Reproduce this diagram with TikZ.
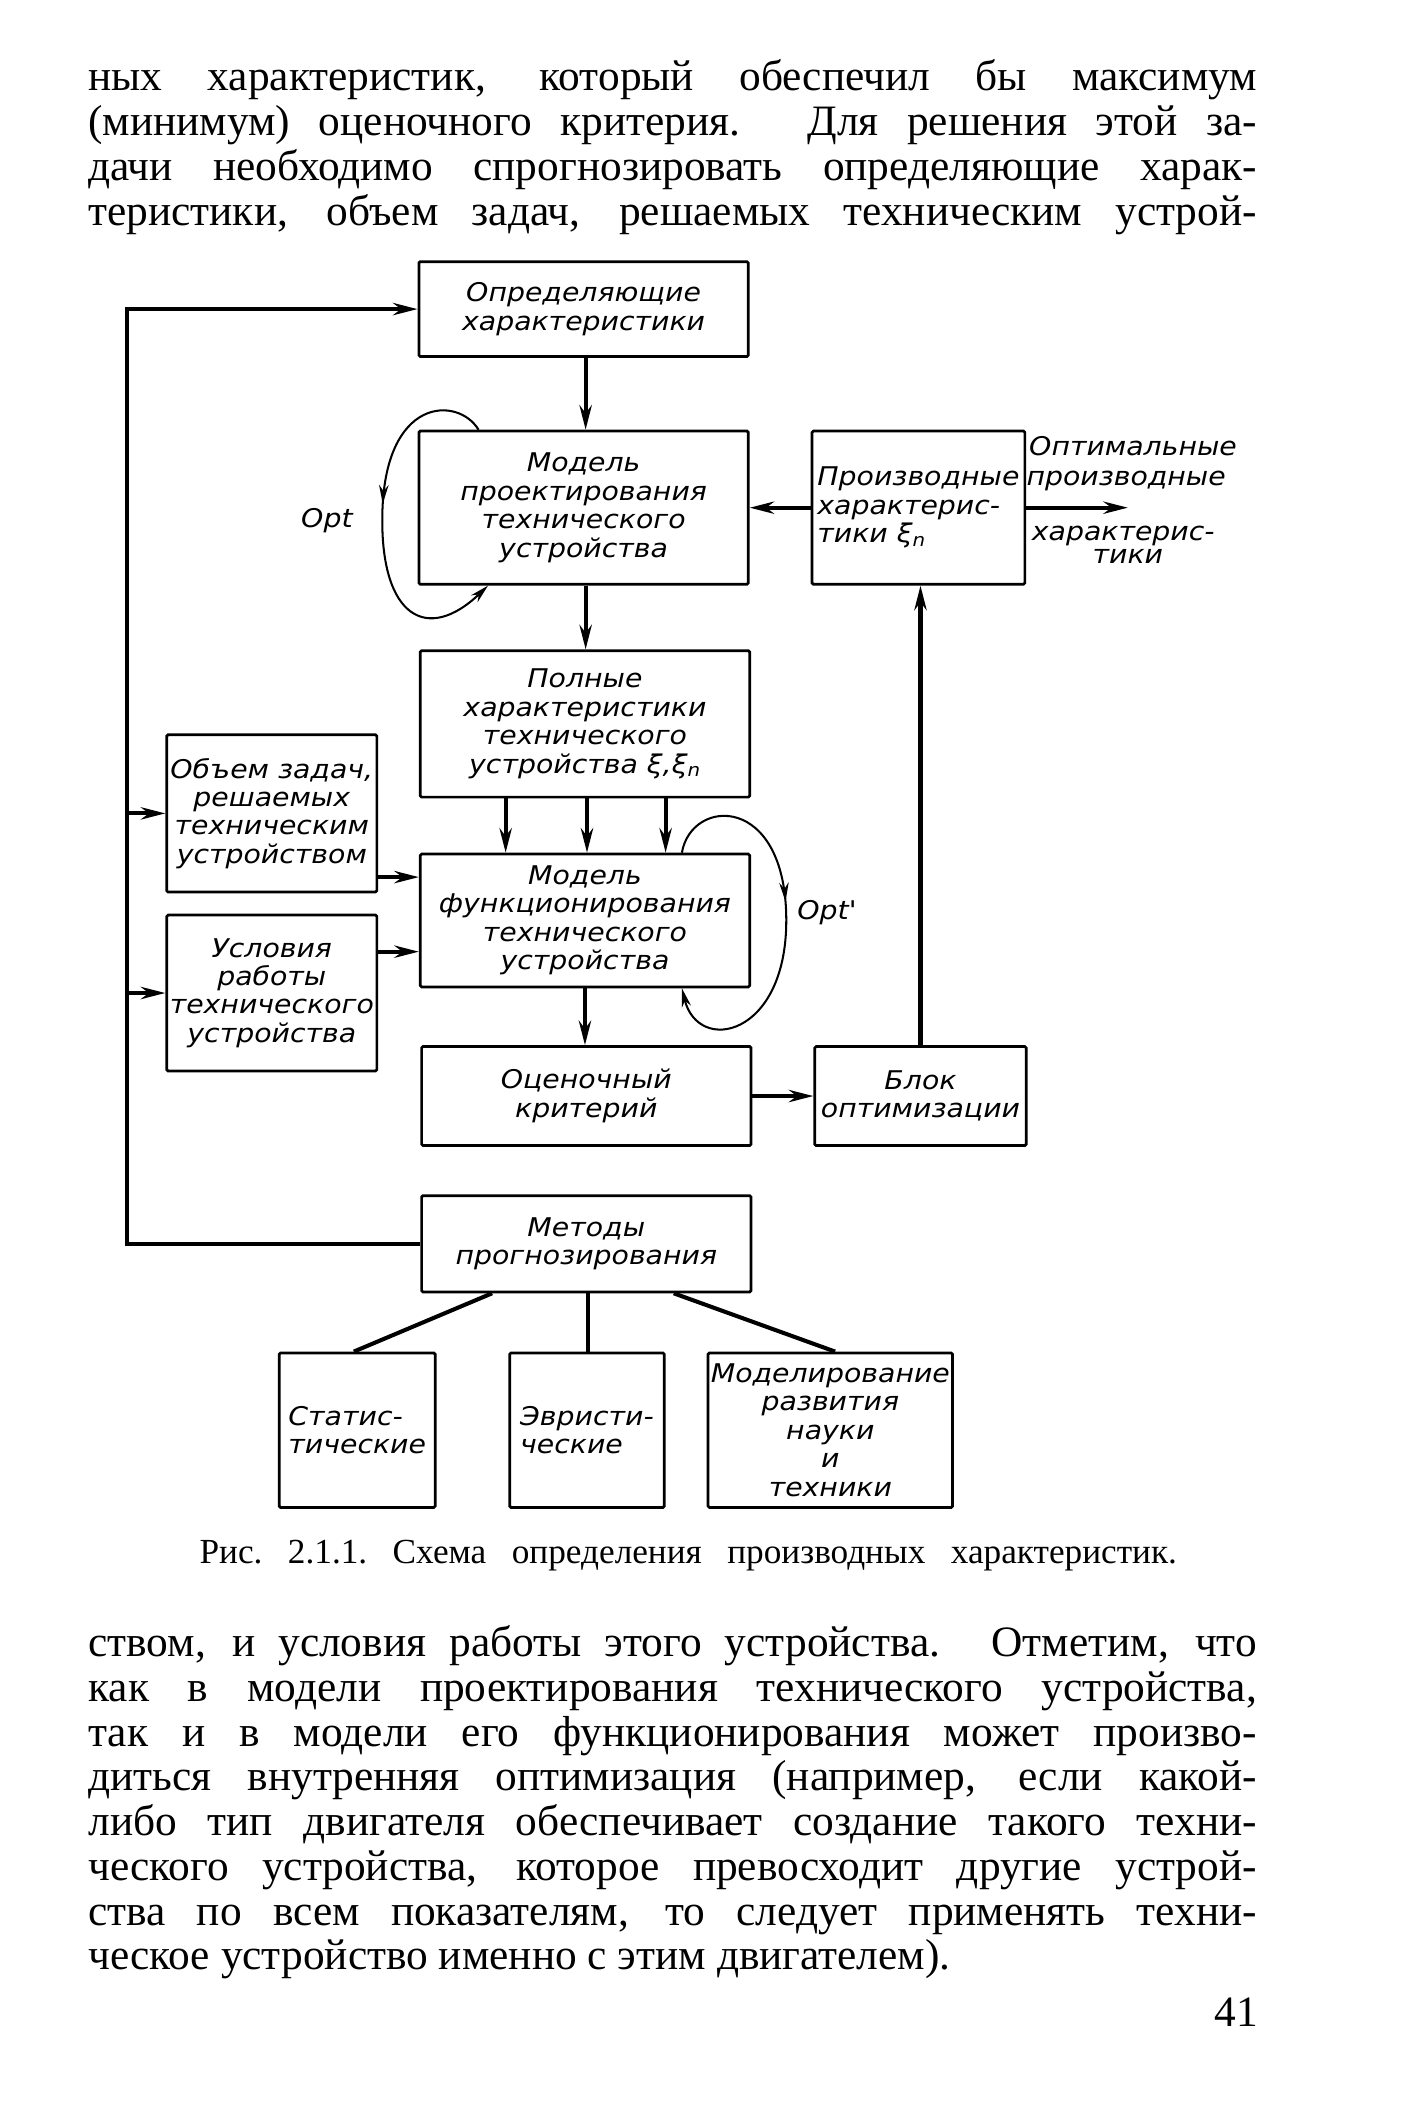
\documentclass[tikz,border=0pt]{standalone}
\usepackage{fontspec}
\setmainfont{Liberation Serif}
\newfontfamily\dft{DejaVu Sans}[FakeStretch=1.1]
\usetikzlibrary{arrows.meta,decorations.markings}
\tikzset{
  box/.style={draw, line width=2pt, rounded corners=1pt, inner sep=2pt, align=center,
    font=\dft\itshape\fontsize{19}{21}\selectfont},
  conn/.style={line width=3pt},
  arr/.style={conn, -{Stealth[length=18pt,width=9pt]}},
  loopln/.style={line width=1.5pt, -{Stealth[length=14pt,width=7pt]},
    postaction={decorate}, decoration={markings, mark=at position 0.45 with {\arrow{Stealth[length=14pt,width=7pt]}}}},
  lbl/.style={font=\dft\itshape\fontsize{19}{21}\selectfont, inner sep=0pt},
  body/.style={font=\fontsize{32}{33}\selectfont, inner sep=0pt, anchor=base west},
  capt/.style={font=\fontsize{26}{28}\selectfont\frenchspacing, inner sep=0pt, anchor=base west},
}
\begin{document}
\begin{tikzpicture}[x=1pt,y=-1pt]
\fill[white] (0,0) rectangle (1047,1569);
\useasboundingbox (0,0) rectangle (1047,1569);

% text above
\node[body] (t1) at (65,67) {\makebox[862pt][s]{ных характеристик, который обеспечил бы максимум}};
\node[body] (t2) at (65,100) {\makebox[862pt][s]{(минимум) оценочного критерия. Для решения этой за-}};
\node[body] (t3) at (65,133) {\makebox[862pt][s]{дачи необходимо спрогнозировать определяющие харак-}};
\node[body] (t4) at (65,166) {\makebox[862pt][s]{теристики, объем задач, решаемых техническим устрой-}};

% boxes
\node[box, minimum width=243pt, minimum height=70pt] (opred) at (430.5,228) {Определяющие\\характеристики};
\node[box, minimum width=243pt, minimum height=113pt] (mproj) at (430.5,374.5) {Модель\\проектирования\\технического\\устройства};
\node[box, minimum width=157pt, minimum height=113pt, align=left] (proizv) at (677.5,374.5) {Производные\\характерис-\\тики ξ\textsubscript{n}};
\node[box, minimum width=243pt, minimum height=108pt] (poln) at (431.5,534) {Полные\\характеристики\\технического\\устройства ξ,ξ\textsubscript{n}};
\node[box, minimum width=155pt, minimum height=116pt] (obem) at (200.5,600) {Объем задач,\\решаемых\\техническим\\устройством};
\node[box, minimum width=243pt, minimum height=98pt] (mfunc) at (431.5,679) {Модель\\функционирования\\технического\\устройства};
\node[box, minimum width=155pt, minimum height=115pt] (usl) at (200.5,732.5) {Условия\\работы\\технического\\устройства};
\node[box, minimum width=243pt, minimum height=73pt] (ocen) at (432.5,808.5) {Оценочный\\критерий};
\node[box, minimum width=156pt, minimum height=73pt] (blok) at (679,808.5) {Блок\\оптимизации};
\node[box, minimum width=243pt, minimum height=71pt] (metod) at (432.5,917.5) {Методы\\прогнозирования};
\node[box, minimum width=115pt, minimum height=114pt, align=left] (stat) at (263.5,1055) {Статис-\\тические};
\node[box, minimum width=114pt, minimum height=114pt, align=left] (evr) at (433,1055) {Эвристи-\\ческие};
\node[box, minimum width=177pt, minimum height=114pt] (model) at (612.5,1055) {Моделирование\\развития\\науки\\и\\техники};

% labels
\node[lbl, anchor=base west] (optl1) at (759,336) {Оптимальные};
\node[lbl, anchor=base west] (optl2) at (757,358) {производные};
\node[lbl, anchor=base west] (optl3) at (761,399) {характерис-};
\node[lbl, anchor=base] (optl4) at (832,416) {тики};
\node[lbl, anchor=base west] (opt1) at (222,389) {Opt};
\node[lbl, anchor=base west] (opt2) at (588,678) {Opt'};

% connectors
\coordinate (lft) at (94,0);
\coordinate (outend) at (832,374.5);
\draw[arr] ([xshift=1.5pt]opred.south) -- ([xshift=1.5pt]opred.south |- mproj.north);
\draw[arr] ([xshift=1.5pt]mproj.south) -- ([xshift=1.5pt]mproj.south |- poln.north);
\draw[arr] (proizv.west) -- (mproj.east);
\draw[arr] (proizv.east) -- (outend);
\foreach \dx in {-58.5,1.5,59.5}
  \draw[arr] ([xshift=\dx pt]poln.south) -- ([xshift=\dx pt]poln.south |- mfunc.north);
\draw[arr] ([yshift=-47pt]obem.east) -- ([yshift=-47pt]obem.east -| mfunc.west);
\draw[arr] ([yshift=30.5pt]usl.east) -- ([yshift=30.5pt]usl.east -| mfunc.west);
\draw[arr] (mfunc.south) -- (mfunc.south |- ocen.north);
\draw[arr] (ocen.east) -- (blok.west);
\draw[arr] (blok.north) -- (blok.north |- proizv.south);
\draw[arr] (metod.west) -- (metod.west -| lft) |- (opred.west);
\draw[arr] (obem.west -| lft) -- (obem.west);
\draw[arr] (usl.west -| lft) -- (usl.west);
\draw[conn] ([xshift=-69.5pt]metod.south) -- ([xshift=-2.5pt]stat.north);
\draw[conn] ([xshift=1.5pt]metod.south) -- ([xshift=1.5pt]metod.south |- evr.north);
\draw[conn] ([xshift=64.5pt]metod.south) -- ([xshift=3.5pt]model.north);

% optimisation loops
\draw[loopln] ([xshift=-77.5pt]mproj.north) .. controls (338,292) and (283,292) .. (282,381)
  .. controls (281,455) and (315,475) .. ([xshift=-70.5pt]mproj.south);
\draw[loopln] ([xshift=71.5pt]mfunc.north) .. controls (510,588) and (580,585) .. (580,679)
  .. controls (580,765) and (515,778) .. ([xshift=71.5pt]mfunc.south);

% caption
\node[capt] (cap) at (147,1153) {\makebox[721pt][s]{Рис. 2.1.1. Схема определения производных характеристик.}};

% text below
\node[body] (b1) at (65,1222) {\makebox[862pt][s]{ством, и условия работы этого устройства. Отметим, что}};
\node[body] (b2) at (65,1255) {\makebox[862pt][s]{как в модели проектирования технического устройства,}};
\node[body] (b3) at (65,1288) {\makebox[862pt][s]{так и в модели его функционирования может произво-}};
\node[body] (b4) at (65,1321) {\makebox[862pt][s]{диться внутренняя оптимизация (например, если какой-}};
\node[body] (b5) at (65,1354) {\makebox[862pt][s]{либо тип двигателя обеспечивает создание такого техни-}};
\node[body] (b6) at (65,1387) {\makebox[862pt][s]{ческого устройства, которое превосходит другие устрой-}};
\node[body] (b7) at (65,1420) {\makebox[862pt][s]{ства по всем показателям, то следует применять техни-}};
\node[body] (b8) at (65,1453) {ческое устройство именно с этим двигателем).};
\node[body, anchor=base east] (pg) at (928,1495) {41};
\end{tikzpicture}
\end{document}
